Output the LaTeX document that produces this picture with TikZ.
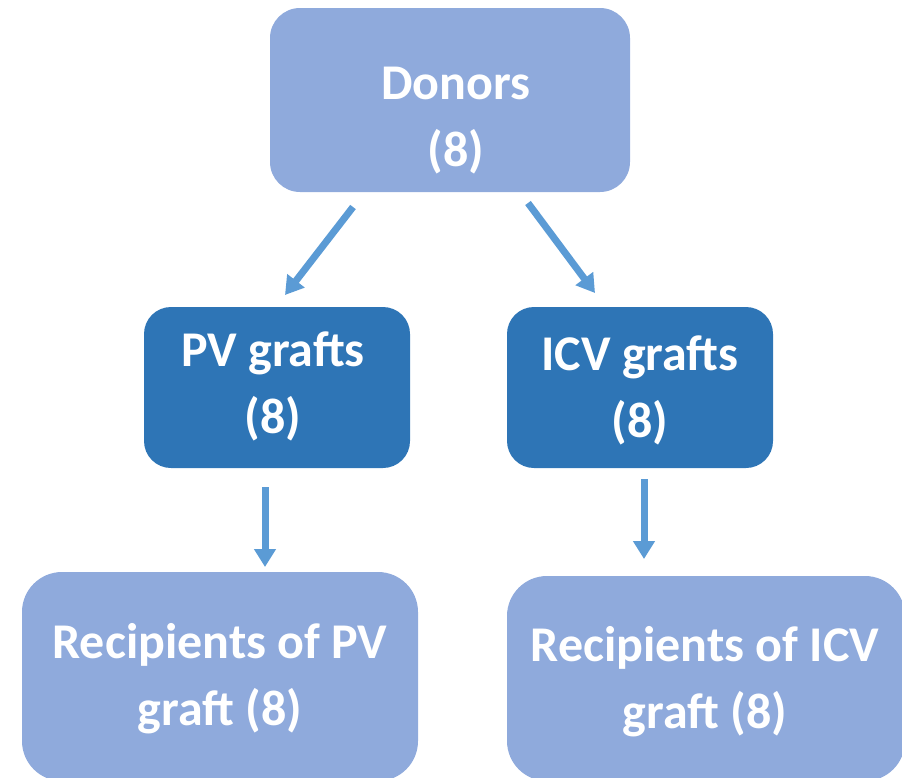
\documentclass[tikz,border=0pt]{standalone}
\usepackage{fontspec}
\setmainfont{Carlito}
\usetikzlibrary{arrows.meta}
\definecolor{lightblue}{HTML}{8FAADC}
\definecolor{darkblue}{HTML}{2E75B6}
\definecolor{arrowblue}{HTML}{5B9BD5}
\tikzset{
  boxbase/.style={rectangle, inner sep=0pt, draw=none},
  lightbox/.style={boxbase, fill=lightblue},
  darkbox/.style={boxbase, fill=darkblue},
  txt/.style={text=white, align=center, inner sep=0pt, anchor=base,
    font=\fontsize{50}{67}\selectfont\bfseries},
  flow/.style={draw=arrowblue, line width=7pt,
    -{Triangle[width=21pt,length=18pt]}},
}
\begin{document}
\begin{tikzpicture}[x=1pt,y=-1pt]
\useasboundingbox (0,0) rectangle (902,777);
% boxes
\node[lightbox, rounded corners=30pt, minimum width=360pt, minimum height=184pt] (donors) at (450,100) {};
\node[darkbox, rounded corners=27pt, minimum width=266pt, minimum height=161pt] (pv) at (277,387.5) {};
\node[darkbox, rounded corners=27pt, minimum width=266pt, minimum height=161pt] (icv) at (640,387.5) {};
\node[lightbox, rounded corners=40pt, minimum width=396pt, minimum height=209pt] (rpv) at (220,676.5) {};
\node[lightbox, rounded corners=40pt, minimum width=398pt, minimum height=205pt] (ricv) at (706,678.5) {};
% texts (anchor = baseline of the last line)
\node[txt] (tdonors) at (456,166) {Donors\\(8)};
\node[txt] (tpv) at (273,433) {PV grafts\\(8)};
\node[txt] (ticv) at (640,437) {ICV grafts\\(8)};
\node[txt] (trpv) at (220,725) {Recipients of PV\\graft (8)};
\node[txt] (tricv) at (705,728) {Recipients of ICV\\graft (8)};
% arrow end points
\coordinate (a1s) at (353,207);
\coordinate (a1e) at (285,295);
\coordinate (a2s) at (528,203);
\coordinate (a2e) at (595,293);
\coordinate (a3s) at (265,487);
\coordinate (a3e) at (265,567);
\coordinate (a4s) at (644,479);
\coordinate (a4e) at (644,559);
\draw[flow] (a1s) -- (a1e);
\draw[flow] (a2s) -- (a2e);
\draw[flow] (a3s) -- (a3e);
\draw[flow] (a4s) -- (a4e);
\end{tikzpicture}
\end{document}
